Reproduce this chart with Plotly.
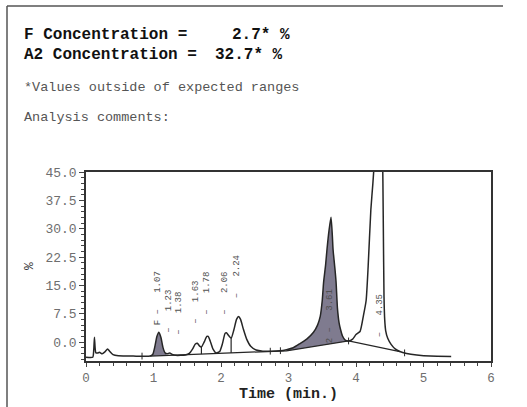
import numpy as np
import plotly.graph_objects as go

# ---------------- data ----------------
time_min = [0.00, 0.10, 0.115, 0.125, 0.135, 0.145, 0.17, 0.20, 0.24, 0.28, 0.32, 0.35, 0.40, 0.48, 0.70,
            0.95, 0.99, 1.02, 1.05, 1.08, 1.11, 1.14, 1.17, 1.20, 1.24, 1.28, 1.33, 1.40, 1.47, 1.53,
            1.58, 1.62, 1.65, 1.68, 1.71, 1.75, 1.79, 1.81, 1.84, 1.88, 1.93, 1.98, 2.02, 2.06, 2.08,
            2.11, 2.15, 2.19, 2.23, 2.26, 2.29, 2.33, 2.38, 2.44, 2.52, 2.62, 2.75, 2.87, 2.97, 3.07,
            3.17, 3.27, 3.37, 3.43, 3.47, 3.50, 3.52, 3.55, 3.57, 3.60, 3.63, 3.65, 3.66, 3.69, 3.705,
            3.725, 3.75, 3.77, 3.80, 3.84, 3.89, 3.95, 4.00, 4.06, 4.11, 4.15, 4.18, 4.22, 4.25, 4.28,
            4.32, 4.36, 4.39, 4.405, 4.415, 4.425, 4.44, 4.47, 4.52, 4.58, 4.65, 4.75, 4.90, 5.10, 5.41]
signal_pct = [-4.0, -4.0, -2.0, 1.3, -1.5, -2.8, -2.9, -2.7, -3.1, -2.6, -1.8, -2.4, -3.3, -3.6, -3.7,
              -3.7, -3.2, -1.2, 1.5, 2.6, 1.2, -1.4, -2.8, -3.1, -2.9, -3.3, -3.5, -3.5, -3.4, -3.0,
              -1.8, -0.5, -0.3, -1.0, -1.3, 0.0, 1.5, 1.5, 0.3, -1.8, -2.9, -2.5, -0.5, 2.3, 2.5,
              1.8, 1.0, 3.2, 6.0, 6.8, 6.0, 3.5, 0.8, -1.1, -2.1, -2.4, -2.4, -2.3, -2.0, -1.5,
              -0.4, 0.8, 2.6, 4.5, 6.8, 11.0, 15.8, 20.5, 24.5, 29.5, 33.0, 28.0, 24.5, 19.0, 15.8,
              9.0, 5.0, 3.4, 1.6, 0.5, 0.3, 0.8, 2.0, 2.8, 7.0, 11.0, 20.0, 35.0, 42.0, 50.0,
              65.0, 70.0, 55.0, 30.0, 12.0, 6.0, 3.0, 1.0, -0.6, -1.8, -2.5, -3.0, -3.4, -3.7, -3.8]

# integration baseline (drawn by the integrator)
base_t = [0.95, 2.97, 3.89, 4.65]
base_v = [-3.7, -2.3, 0.3, -2.5]

# shaded (reported) peaks: F and A2
shade_start = [0.97, 2.97]
shade_end = [1.19, 3.89]

# drop lines between fused peaks
drop_t = [1.71, 2.15]
# small integration event marks
event_t = [0.83, 2.73, 2.88, 3.89, 4.72]

# peak labels
peak_rt = [1.07, 1.23, 1.38, 1.63, 1.78, 2.06, 2.24, 3.61, 4.35]
peak_name = ["F", "", "", "", "", "", "", "2", ""]
label_base = [4.0, 1.8, 1.3, 4.2, 6.6, 6.6, 11.0, -0.9, 0.8]

x_ticks = [0, 1, 2, 3, 4, 5, 6]
y_ticks = [0.0, 7.5, 15.0, 22.5, 30.0, 37.5, 45.0]

# ---------------- figure ----------------
t = np.array(time_min)
s = np.array(signal_pct)

LINE = "#262626"
FILL = "#7f7b8f"
GREY = "#6e6e6e"
LBL = "#505050"
MONO = "Courier New, Liberation Mono, monospace"

fig = go.Figure()

# shaded areas
for a, b in zip(shade_start, shade_end):
    tt = np.linspace(a, b, 60)
    top = np.interp(tt, t, s)
    bot = np.interp(tt, base_t, base_v)
    fig.add_trace(go.Scatter(x=np.concatenate([tt, tt[::-1]]),
                             y=np.concatenate([top, bot[::-1]]),
                             fill="toself", fillcolor=FILL, mode="none",
                             hoverinfo="skip"))

# baseline
fig.add_trace(go.Scatter(x=base_t, y=base_v, mode="lines",
                         line=dict(color=LINE, width=1.2), hoverinfo="skip"))

# drop lines
for d in drop_t:
    fig.add_trace(go.Scatter(x=[d, d], y=[float(np.interp(d, t, s)), float(np.interp(d, base_t, base_v))],
                             mode="lines", line=dict(color=LINE, width=1.2), hoverinfo="skip"))

# event marks
for e in event_t:
    v = float(np.interp(e, t, s))
    fig.add_trace(go.Scatter(x=[e, e], y=[v - 0.9, v + 0.9], mode="lines",
                             line=dict(color=LINE, width=1), hoverinfo="skip"))

# chromatogram
fig.add_trace(go.Scatter(x=time_min, y=signal_pct, mode="lines",
                         line=dict(color=LINE, width=1.5, shape="spline", smoothing=0.5)))

# peak labels
nb = "\u00a0"
for rt, nm, lb in zip(peak_rt, peak_name, label_base):
    txt = (nm + nb if nm else "") + "\u2013" + nb * 3 + f"{rt:.2f}"
    fig.add_annotation(x=rt, y=lb, xref="x", yref="y", text=txt, textangle=-90,
                       showarrow=False, xanchor="center", yanchor="bottom",
                       font=dict(family=MONO, size=9, color=LBL))

L, R, T, B = 86, 491, 172, 361
W, H = 527, 407


def px(x):
    return (x - L) / (R - L)


def py(y):
    return (B - y) / (B - T)


axis_common = dict(showgrid=False, zeroline=False, showline=True, linecolor="#333333", linewidth=1.5,
                   mirror=True, ticks="outside", tickwidth=1, tickcolor="#444444")

fig.update_xaxes(range=[0, 6], tickvals=x_ticks, ticktext=[str(v) for v in x_ticks], ticklen=4,
                 tickfont=dict(family=MONO, size=12.5, color=GREY),
                 minor=dict(dtick=0.2, ticks="outside", ticklen=3, tickcolor="#444444"),
                 **axis_common)
fig.update_yaxes(range=[-5, 45], tickvals=y_ticks, ticktext=[f"{v:.1f}" for v in y_ticks], ticklen=5,
                 tickfont=dict(family=MONO, size=13, color=GREY),
                 minor=dict(dtick=1.5, tick0=0, ticks="outside", ticklen=3, tickcolor="#444444"),
                 **axis_common)

# axis titles
fig.add_annotation(xref="paper", yref="paper", x=0.5, y=py(394), text="<b>Time (min.)</b>",
                   showarrow=False, xanchor="center", yanchor="middle",
                   font=dict(family=MONO, size=15, color="#222222"))
fig.add_annotation(xref="paper", yref="paper", x=px(29), y=py(266), text="%", textangle=-90,
                   showarrow=False, xanchor="center", yanchor="middle",
                   font=dict(family=MONO, size=13, color="#333333"))

# report header text
HDR = dict(family=MONO, size=16, color="#111111")
fig.add_annotation(xref="paper", yref="paper", x=px(22), y=py(35), text="<b>F Concentration =</b>",
                   showarrow=False, xanchor="left", yanchor="middle", font=HDR)
fig.add_annotation(xref="paper", yref="paper", x=px(230), y=py(35), text="<b>2.7* %</b>",
                   showarrow=False, xanchor="left", yanchor="middle", font=HDR)
fig.add_annotation(xref="paper", yref="paper", x=px(22), y=py(55), text="<b>A2 Concentration =</b>",
                   showarrow=False, xanchor="left", yanchor="middle", font=HDR)
fig.add_annotation(xref="paper", yref="paper", x=px(213), y=py(55), text="<b>32.7* %</b>",
                   showarrow=False, xanchor="left", yanchor="middle", font=HDR)
fig.add_annotation(xref="paper", yref="paper", x=px(22), y=py(87), text="*Values outside of expected ranges",
                   showarrow=False, xanchor="left", yanchor="middle",
                   font=dict(family=MONO, size=13.5, color="#555555"))
fig.add_annotation(xref="paper", yref="paper", x=px(22), y=py(117), text="Analysis comments:",
                   showarrow=False, xanchor="left", yanchor="middle",
                   font=dict(family=MONO, size=13.5, color="#555555"))

# scanned page border
fig.add_shape(type="line", xref="paper", yref="paper", x0=px(7), x1=px(7), y0=py(6), y1=py(410),
              line=dict(color="#555555", width=1.5))
fig.add_shape(type="line", xref="paper", yref="paper", x0=px(7), x1=px(503), y0=py(6), y1=py(6),
              line=dict(color="#555555", width=1.5))

fig.update_layout(width=W, height=H, margin=dict(l=L, r=W - R, t=T, b=H - B),
                  paper_bgcolor="white", plot_bgcolor="white", showlegend=False)

fig.write_html("out.html", config={"displayModeBar": False},
               post_script="document.body.style.margin='0';document.body.style.overflow='hidden';")
